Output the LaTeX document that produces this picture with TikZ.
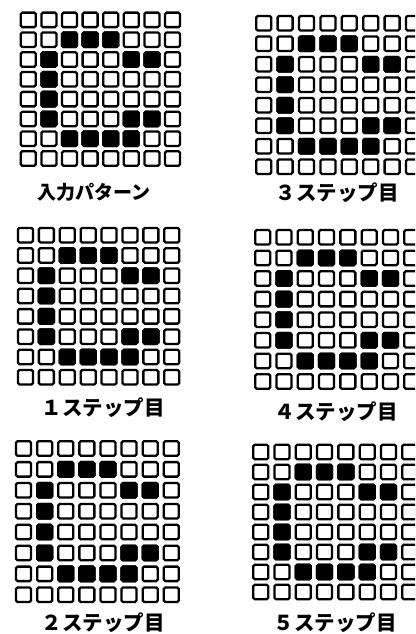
\documentclass[tikz,border=0pt]{standalone}
\usepackage{fontspec}
\newfontfamily\jpfont{Noto Sans CJK JP}
\usetikzlibrary{positioning}

\tikzset{
	cell/.style={draw, line width=2.3pt, rounded corners=1.5pt, fill=white, inner sep=0pt,
		minimum width=15pt, minimum height=14.5pt},
	cellon/.style={cell, fill=black},
	steplabel/.style={font=\jpfont\bfseries\fontsize{20.5}{23}\selectfont, inner sep=0pt},
	inplabel/.style={font=\jpfont\bfseries\fontsize{19}{22}\selectfont, inner sep=0pt}
}

% one 8x8 pattern: name, left, top, pitch x, pitch y
\newcommand{\patgrid}[5]{%
	\foreach \r in {0,...,7}
		\foreach \c in {0,...,7}
			\node[cell] (#1-\r-\c) at ({#2+(\c+0.5)*#4}, {#3+(\r+0.5)*#5}) {};
	\foreach \r/\c in {1/2,1/3,1/4,2/1,2/5,2/6,3/1,4/1,5/1,5/5,5/6,6/2,6/3,6/4,6/5}
		\node[cellon] (#1-on-\r-\c) at (#1-\r-\c) {};
}

\begin{document}
\begin{tikzpicture}[x=1pt, y=-1pt]
	\useasboundingbox (0,0) rectangle (415,634);
	\clip (0,0) rectangle (415,634);
	% left column
	\patgrid{inp}{18}{10}{20.6}{19.8}
	\patgrid{st1}{15}{225}{20.9}{20.3}
	\patgrid{st2}{13}{438}{21.1}{20.9}
	% right column
	\patgrid{st3}{253}{13}{21.4}{20.5}
	\patgrid{st4}{252}{227}{21.3}{20.6}
	\patgrid{st5}{250}{442}{21.3}{20.0}
	% labels
	\node[inplabel] (inp-lab) at (94,192) {入力パターン};
	\node[steplabel] (st1-lab) at (103,408) {１ステップ目};
	\node[steplabel] (st2-lab) at (103,623) {２ステップ目};
	\node[steplabel] (st3-lab) at (337,193) {３ステップ目};
	\node[steplabel] (st4-lab) at (336,412) {４ステップ目};
	\node[steplabel] (st5-lab) at (335,623) {５ステップ目};
\end{tikzpicture}
\end{document}
